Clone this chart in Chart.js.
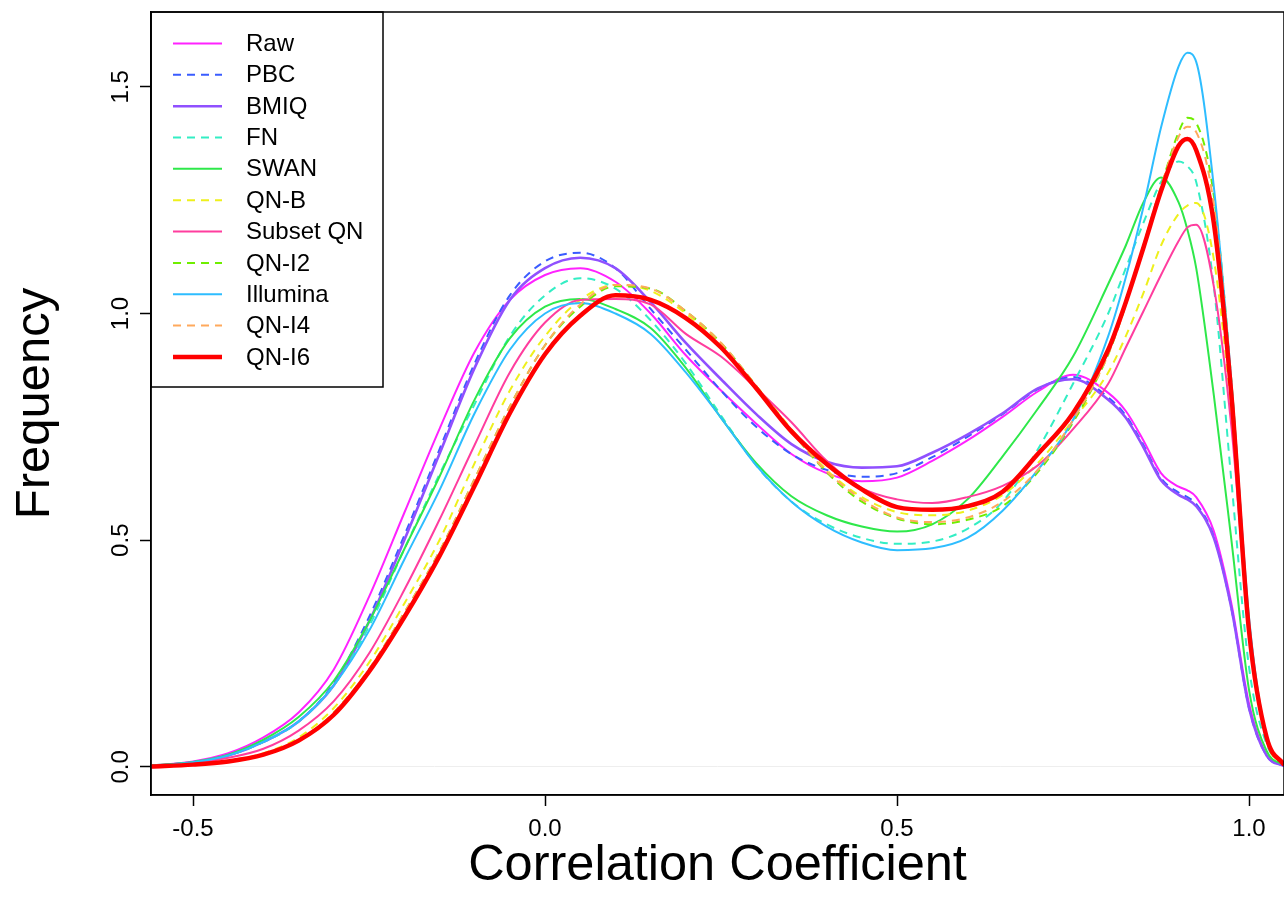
<!DOCTYPE html>
<html>
<head>
<meta charset="utf-8">
<script src="https://cdn.jsdelivr.net/npm/chart.js@4.4.1/dist/chart.umd.min.js"></script>
<style>
  html, body { margin: 0; padding: 0; background: #fff; }
  canvas { display: block; }
</style>
</head>
<body>
<canvas id="myChart" width="1284" height="914"></canvas>
<script>
// density curves, one value per x position
var xs = [-0.56, -0.5, -0.45, -0.4, -0.35, -0.3, -0.25, -0.2, -0.15, -0.1, -0.05, 0, 0.05, 0.1, 0.15, 0.2, 0.25, 0.3, 0.35, 0.4,
          0.45, 0.5, 0.55, 0.6, 0.65, 0.7, 0.75, 0.8, 0.825, 0.85, 0.875, 0.9, 0.9125, 0.925, 0.95, 0.975, 1.0, 1.025, 1.05];

var raw = [0.003, 0.012, 0.03, 0.065, 0.12, 0.215, 0.375, 0.56, 0.745, 0.915, 1.03, 1.085, 1.10, 1.07, 1.0, 0.908, 0.83, 0.757, 0.69, 0.648,
           0.63, 0.638, 0.675, 0.72, 0.772, 0.828, 0.865, 0.825, 0.785, 0.72, 0.648, 0.618, 0.61, 0.595, 0.52, 0.36, 0.14, 0.027, 0.002];
var pbc = [0.002, 0.01, 0.025, 0.055, 0.10, 0.185, 0.33, 0.51, 0.70, 0.89, 1.04, 1.115, 1.134, 1.10, 1.01, 0.92, 0.83, 0.75, 0.69, 0.655,
           0.64, 0.648, 0.683, 0.728, 0.778, 0.833, 0.86, 0.815, 0.775, 0.71, 0.637, 0.605, 0.595, 0.58, 0.508, 0.35, 0.13, 0.025, 0.002];
var bmiq = [0.002, 0.01, 0.025, 0.055, 0.10, 0.18, 0.32, 0.50, 0.69, 0.88, 1.03, 1.10, 1.123, 1.10, 1.025, 0.935, 0.855, 0.778, 0.712, 0.673,
            0.66, 0.663, 0.693, 0.733, 0.78, 0.835, 0.855, 0.81, 0.77, 0.705, 0.632, 0.60, 0.59, 0.575, 0.505, 0.35, 0.13, 0.025, 0.002];
var fn = [0.002, 0.01, 0.025, 0.055, 0.10, 0.18, 0.31, 0.48, 0.645, 0.80, 0.95, 1.04, 1.078, 1.055, 0.985, 0.89, 0.775, 0.665, 0.585, 0.535,
          0.505, 0.492, 0.497, 0.525, 0.585, 0.70, 0.845, 1.00, 1.10, 1.20, 1.29, 1.335, 1.325, 1.29, 1.06, 0.63, 0.22, 0.05, 0.004];
var swan = [0.003, 0.011, 0.027, 0.06, 0.11, 0.19, 0.32, 0.48, 0.64, 0.81, 0.945, 1.015, 1.032, 1.01, 0.968, 0.88, 0.77, 0.67, 0.597, 0.555,
            0.53, 0.519, 0.535, 0.59, 0.685, 0.79, 0.905, 1.065, 1.15, 1.245, 1.30, 1.245, 1.185, 1.10, 0.82, 0.50, 0.17, 0.035, 0.003];
var qnb = [0.001, 0.006, 0.014, 0.03, 0.065, 0.13, 0.23, 0.36, 0.50, 0.67, 0.83, 0.95, 1.03, 1.063, 1.05, 1.0, 0.93, 0.84, 0.745, 0.655,
           0.595, 0.562, 0.555, 0.565, 0.60, 0.67, 0.765, 0.87, 0.95, 1.045, 1.15, 1.22, 1.238, 1.244, 1.12, 0.78, 0.32, 0.06, 0.004];
var subsetQn = [0.001, 0.008, 0.02, 0.04, 0.08, 0.145, 0.25, 0.39, 0.545, 0.71, 0.87, 0.98, 1.03, 1.032, 1.02, 0.955, 0.905, 0.835, 0.76, 0.675,
                0.615, 0.59, 0.582, 0.595, 0.62, 0.665, 0.745, 0.845, 0.925, 1.005, 1.085, 1.16, 1.19, 1.196, 1.06, 0.75, 0.30, 0.06, 0.004];
var qni2 = [0.001, 0.006, 0.013, 0.027, 0.058, 0.12, 0.215, 0.34, 0.475, 0.635, 0.795, 0.93, 1.015, 1.06, 1.055, 1.005, 0.935, 0.84, 0.74, 0.65,
            0.585, 0.548, 0.535, 0.545, 0.575, 0.65, 0.76, 0.91, 1.02, 1.15, 1.28, 1.40, 1.432, 1.42, 1.26, 0.85, 0.32, 0.06, 0.004];
var illumina = [0.002, 0.01, 0.025, 0.055, 0.10, 0.18, 0.30, 0.457, 0.61, 0.78, 0.92, 1.0, 1.023, 1.0, 0.955, 0.87, 0.77, 0.665, 0.585, 0.53,
                0.495, 0.478, 0.482, 0.505, 0.565, 0.655, 0.765, 0.95, 1.08, 1.235, 1.41, 1.545, 1.575, 1.555, 1.28, 0.85, 0.33, 0.065, 0.006];
var qni4 = [0.001, 0.006, 0.013, 0.027, 0.058, 0.12, 0.215, 0.34, 0.475, 0.635, 0.795, 0.93, 1.02, 1.063, 1.055, 1.005, 0.935, 0.84, 0.74, 0.652,
            0.59, 0.55, 0.54, 0.55, 0.585, 0.655, 0.765, 0.91, 1.02, 1.15, 1.28, 1.39, 1.412, 1.40, 1.24, 0.84, 0.31, 0.06, 0.004];
var qni6 = [0.001, 0.005, 0.012, 0.027, 0.058, 0.115, 0.21, 0.33, 0.465, 0.62, 0.78, 0.91, 0.995, 1.04, 1.03, 0.99, 0.925, 0.835, 0.74, 0.668,
            0.612, 0.573, 0.567, 0.575, 0.607, 0.69, 0.78, 0.92, 1.025, 1.145, 1.27, 1.37, 1.385, 1.36, 1.20, 0.82, 0.30, 0.065, 0.004];

var names = ['Raw', 'PBC', 'BMIQ', 'FN', 'SWAN', 'QN-B', 'Subset QN', 'QN-I2', 'Illumina', 'QN-I4', 'QN-I6'];
var series = [raw, pbc, bmiq, fn, swan, qnb, subsetQn, qni2, illumina, qni4, qni6];
var colors = ['#ff22ff', '#3a5cff', '#9050ff', '#33eec4', '#2ee84a', '#eef01c', '#ff3d9e', '#6fee00', '#2ebdff', '#ffa95c', '#ff0000'];
var dashed = [false, true, false, true, false, true, false, true, false, true, false];
var widths = [2, 2, 2.6, 2, 2, 2, 2, 2, 2, 2, 4.5];

var xTicks = [-0.5, 0, 0.5, 1.0];
var yTicks = [0, 0.5, 1.0, 1.5];

Chart.defaults.font.family = "'Liberation Sans', Arial, sans-serif";
Chart.defaults.color = '#000';

function toPoints(vals) {
    return vals.map(function (v, i) { return { x: xs[i], y: v }; });
}

var datasets = names.map(function (name, i) {
    return {
        label: name,
        data: toPoints(series[i]),
        borderColor: colors[i],
        borderWidth: widths[i],
        borderDash: dashed[i] ? [8, 6] : [],
        pointRadius: 0,
        fill: false,
        cubicInterpolationMode: 'monotone',
        order: names.length - i   // later series on top, like R
    };
});

// frame round the plot and the boxed legend in the top left corner
var frameAndLegend = {
    id: 'frameAndLegend',
    afterDraw: function (chart) {
        var ctx = chart.ctx;
        var a = chart.chartArea;
        ctx.save();
        ctx.strokeStyle = '#000';
        ctx.lineWidth = 1.5;
        ctx.strokeRect(a.left, a.top, a.right - a.left, a.bottom - a.top);

        var x0 = a.left, y0 = a.top;
        ctx.strokeRect(x0, y0, 232, 375);
        ctx.font = "24px 'Liberation Sans', Arial, sans-serif";
        ctx.textBaseline = 'middle';
        chart.data.datasets.forEach(function (ds, i) {
            var y = y0 + 31.5 + i * 31.34;
            ctx.strokeStyle = ds.borderColor;
            ctx.lineWidth = ds.borderWidth;
            ctx.setLineDash(ds.borderDash);
            ctx.beginPath();
            ctx.moveTo(x0 + 22, y);
            ctx.lineTo(x0 + 71, y);
            ctx.stroke();
            ctx.setLineDash([]);
            ctx.fillStyle = '#000';
            ctx.fillText(ds.label, x0 + 95, y + 1);
        });
        ctx.restore();
    }
};

var ctx = document.getElementById('myChart');
var myChart = new Chart(ctx, {
    type: 'line',
    data: { datasets: datasets },
    plugins: [frameAndLegend],
    options: {
        responsive: false,
        animation: false,
        devicePixelRatio: 1,
        layout: { padding: { top: 12, left: 0, right: 0, bottom: 0 } },
        plugins: {
            legend: { display: false },
            tooltip: { enabled: false }
        },
        scales: {
            x: {
                type: 'linear',
                min: -0.5597,
                max: 1.0497,
                afterBuildTicks: function (s) {
                    s.ticks = xTicks.map(function (v) { return { value: v }; });
                },
                afterFit: function (s) {
                    s.height = 119;
                    s.paddingLeft = 0;
                    s.paddingRight = 0;
                },
                ticks: {
                    font: { size: 24 },
                    padding: 9,
                    maxRotation: 0,
                    callback: function (v) { return v.toFixed(1); }
                },
                grid: { drawOnChartArea: false, tickLength: 11, tickColor: '#000', tickWidth: 1.5 },
                border: { color: '#000', width: 1.5 },
                title: {
                    display: true,
                    text: 'Correlation Coefficient',
                    font: { size: 50.5 },
                    padding: { top: 0, bottom: 18 }
                }
            },
            y: {
                min: -0.062,
                max: 1.665,
                afterBuildTicks: function (s) {
                    s.ticks = yTicks.map(function (v) { return { value: v }; });
                },
                afterFit: function (s) {
                    s.width = 151;
                    s.paddingTop = 0;
                    s.paddingBottom = 0;
                },
                ticks: {
                    font: { size: 24 },
                    padding: 2,
                    minRotation: 90,
                    maxRotation: 90,
                    crossAlign: 'center',
                    callback: function (v) { return v.toFixed(1); }
                },
                grid: {
                    color: function (c) { return c.tick && c.tick.value === 0 ? '#eeeeee' : 'rgba(0,0,0,0)'; },
                    tickColor: '#000',
                    tickLength: 11,
                    tickWidth: 1.5
                },
                border: { color: '#000', width: 1.5 },
                title: {
                    display: true,
                    text: 'Frequency',
                    font: { size: 49 },
                    padding: { top: 6, bottom: 0 }
                }
            }
        }
    }
});
</script>
</body>
</html>
